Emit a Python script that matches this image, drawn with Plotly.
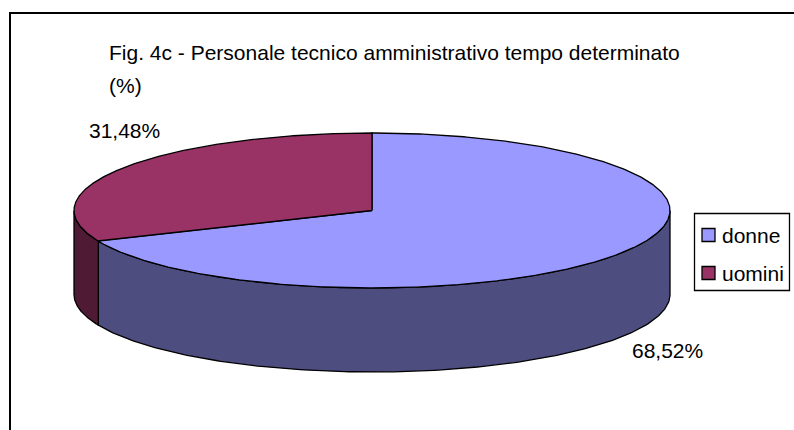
import numpy as np
import plotly.graph_objects as go

# ---- data ----
categories = ["donne", "uomini"]
values = [68.52, 31.48]
title_lines = ["Fig. 4c - Personale tecnico amministrativo tempo determinato", "(%)"]

# ---- style ----
top_colors = ["#9999FF", "#993366"]
side_colors = ["#4D4D80", "#4F1A34"]
FONT = "Arial, 'Liberation Sans', sans-serif"
FS = 21
W, H = 794, 430
cx, cy, rx, ry, depth = 372, 210.5, 298, 77.5, 84
start_angle = 90.0

def pt(theta_deg, dz=0.0):
    t = np.radians(theta_deg)
    return cx + rx * np.cos(t), cy - ry * np.sin(t) + dz

fig = go.Figure()

total = float(sum(values))
bounds = []
a = start_angle
for v in values:
    b = a - 360.0 * v / total
    bounds.append((a, b))
    a = b

# side walls (front half only: angles where sin < 0)
for i, (a0, a1) in enumerate(bounds):
    hi, lo = a0, a1
    for shift in (-360, 0, 360):
        f_hi, f_lo = 0 + shift, -180 + shift
        s_hi, s_lo = min(hi, f_hi), max(lo, f_lo)
        if s_hi - s_lo > 1e-6:
            th = np.linspace(s_hi, s_lo, 200)
            xt, yt = pt(th)
            xb, yb = pt(th[::-1], depth)
            xs = np.concatenate([xt, xb, xt[:1]])
            ys = np.concatenate([yt, yb, yt[:1]])
            fig.add_trace(go.Scatter(x=xs, y=ys, mode="lines", fill="toself",
                                     fillcolor=side_colors[i],
                                     line=dict(color="black", width=1.3),
                                     hoverinfo="skip", showlegend=False))

# top faces
for i, (a0, a1) in enumerate(bounds):
    th = np.linspace(a0, a1, 400)
    xt, yt = pt(th)
    xs = np.concatenate([[cx], xt, [cx]])
    ys = np.concatenate([[cy], yt, [cy]])
    fig.add_trace(go.Scatter(x=xs, y=ys, mode="lines", fill="toself",
                             fillcolor=top_colors[i], name=categories[i],
                             line=dict(color="black", width=1.3),
                             hoverinfo="skip", showlegend=False))

def fmt(v):
    return f"{v:.2f}".replace(".", ",") + "%"

annotations = []
label_pos = [(667, 350), (124, 130)]
for v, (lx, ly) in zip(values, label_pos):
    annotations.append(dict(x=lx, y=ly, xref="x", yref="y", text=fmt(v), showarrow=False,
                            xanchor="center", yanchor="middle",
                            font=dict(family=FONT, size=FS, color="black")))
annotations.append(dict(x=107, y=52, xref="x", yref="y", text=title_lines[0], showarrow=False,
                        xanchor="left", yanchor="middle",
                        font=dict(family=FONT, size=FS, color="black")))
annotations.append(dict(x=107, y=85, xref="x", yref="y", text=title_lines[1], showarrow=False,
                        xanchor="left", yanchor="middle",
                        font=dict(family=FONT, size=FS, color="black")))

shapes = []
shapes.append(dict(type="rect", xref="x", yref="y", x0=10, y0=13, x1=1000, y1=1000,
                   line=dict(color="black", width=2), layer="below"))
shapes.append(dict(type="rect", xref="x", yref="y", x0=694.5, y0=213.5, x1=789.5, y1=290.5,
                   line=dict(color="black", width=1.3), fillcolor="white"))
leg_rows = [235, 273]
for i, cat in enumerate(categories):
    yy = leg_rows[i]
    shapes.append(dict(type="rect", xref="x", yref="y", x0=702, y0=yy - 6.5, x1=715, y1=yy + 6.5,
                       line=dict(color="black", width=1.3), fillcolor=top_colors[i]))
    annotations.append(dict(x=720, y=yy, xref="x", yref="y", text=cat, showarrow=False,
                            xanchor="left", yanchor="middle",
                            font=dict(family=FONT, size=FS, color="black")))

fig.update_layout(
    width=W, height=H, autosize=False,
    margin=dict(l=0, r=0, t=0, b=0),
    paper_bgcolor="white", plot_bgcolor="white",
    xaxis=dict(range=[0, W], visible=False, fixedrange=True),
    yaxis=dict(range=[H, 0], visible=False, fixedrange=True),
    shapes=shapes, annotations=annotations, showlegend=False,
)

fig.write_html("out.html", config={"displayModeBar": False},
               post_script="document.body.style.margin='0';document.body.style.overflow='hidden';")
